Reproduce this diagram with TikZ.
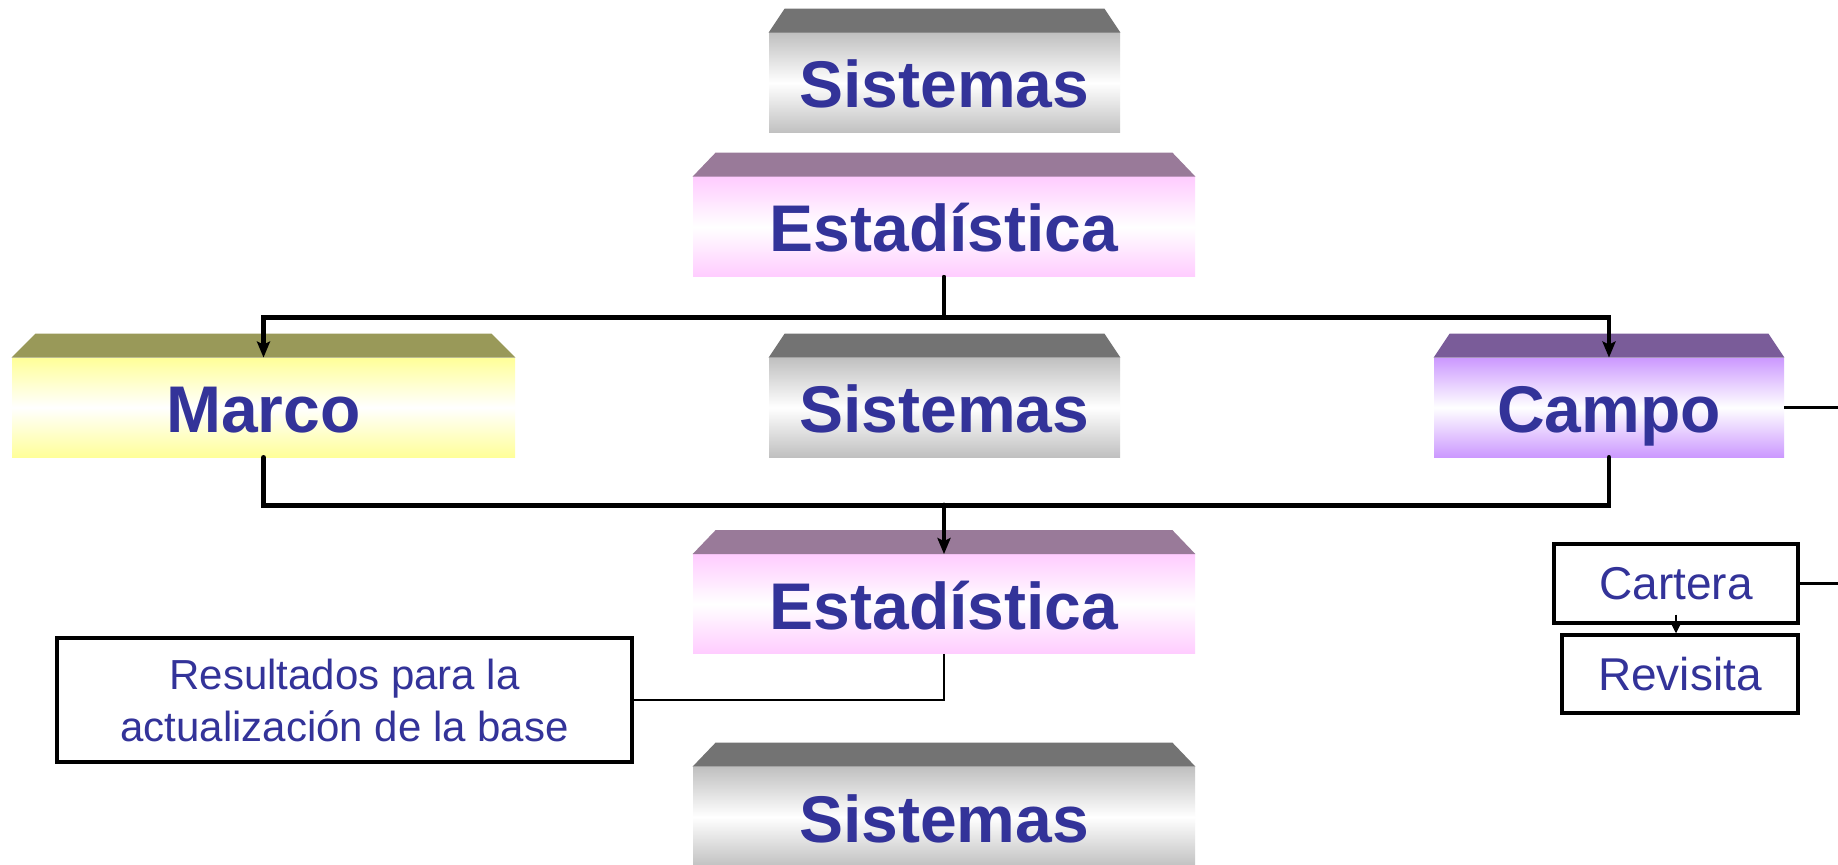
\documentclass[tikz,border=0pt]{standalone}
\usepackage{fontspec}
\setmainfont{Liberation Sans}
\usetikzlibrary{arrows.meta}
\definecolor{txt}{RGB}{51,51,153}
\definecolor{sisTop}{RGB}{115,115,115}
\definecolor{sisFront}{RGB}{192,192,192}
\definecolor{estTop}{RGB}{153,122,153}
\definecolor{estFront}{RGB}{255,204,255}
\definecolor{marTop}{RGB}{153,153,89}
\definecolor{marFront}{RGB}{255,255,153}
\definecolor{camTop}{RGB}{122,92,153}
\definecolor{camFront}{RGB}{204,153,255}
\newcommand{\tface}[3]{\fill[#2] (#1.north west) -- (#1.north east) -- ++(-#3,24) -- ([shift={(#3,24)}]#1.north west) -- cycle;}
\begin{document}
\begin{tikzpicture}[x=0.5pt,y=0.5pt,
  block/.style={rectangle, inner sep=0pt, text=txt, font=\fontsize{33}{39}\selectfont\bfseries,
    text height=25pt, text depth=0pt,
    top color=#1, bottom color=#1, middle color=white},
  tbox/.style={rectangle, draw=black, line width=1.7pt, inner sep=0pt, text=txt, fill=white},
  conn/.style={line width=2.4pt, line cap=round, line join=miter},
  thinconn/.style={line width=1.2pt},
  arr/.style={-{Stealth[length=8pt,width=6.5pt,inset=1.5pt]}},
  smallarr/.style={-{Stealth[length=6pt,width=6pt,inset=1pt]}}
]
\clip (0,0) rectangle (1838,864);
\fill[white] (0,0) rectangle (1838,864);

% 3D blocks
\node[block=sisFront, minimum width=175.5pt, minimum height=50pt] (sis1) at (944.5,781) {Sistemas};
\node[block=estFront, minimum width=251pt, minimum height=50pt] (est1) at (944,637) {Estadística};
\node[block=marFront, minimum width=251.5pt, minimum height=49.5pt] (marco) at (263.5,456.5) {Marco};
\node[block=sisFront, minimum width=175.5pt, minimum height=49.5pt] (sis2) at (944.5,456.5) {Sistemas};
\node[block=camFront, minimum width=175pt, minimum height=49.5pt] (campo) at (1609,456.5) {Campo};
\node[block=estFront, minimum width=251pt, minimum height=49.5pt] (est2) at (944,260) {Estadística};
\node[block=sisFront, minimum width=251pt, minimum height=50pt] (sis3) at (944,47) {Sistemas};

\tface{sis1}{sisTop}{16}
\tface{est1}{estTop}{23}
\tface{marco}{marTop}{24}
\tface{sis2}{sisTop}{16}
\tface{campo}{camTop}{16}
\tface{est2}{estTop}{23}
\tface{sis3}{sisTop}{23}

% text boxes
\node[tbox, minimum width=287.5pt, minimum height=62pt, align=center,
  font=\fontsize{21}{26}\selectfont] (res) at (344.5,164) {Resultados para la\\actualización de la base};
\node[tbox, minimum width=122pt, minimum height=39.5pt, font=\fontsize{23}{28}\selectfont] (cartera) at (1676,280.5) {Cartera};
\node[tbox, minimum width=118pt, minimum height=39pt, font=\fontsize{23}{28}\selectfont] (revisita) at (1680,190) {Revisita};

% free ends at the right edge
\coordinate (campoR) at (1838,456.5);
\coordinate (cartR) at (1838,280.5);
\coordinate (busB) at (944,359);

% connectors
\draw[conn,arr] (est1.south) -- ++(0,-40) -| (marco.north);
\draw[conn,arr] (est1.south) -- ++(0,-40) -| (campo.north);
\draw[conn] (marco.south) -- ++(0,-48) -| (campo.south);
\draw[conn,arr] (est2.north |- busB) -- (est2.north);
\draw[thinconn] (est2.south) |- (res.east);
\draw[thinconn] (campo.east) -- (campoR);
\draw[thinconn] (cartera.east) -- (cartR);
\draw[thinconn,smallarr] ([yshift=5]cartera.south) -- (cartera.south |- revisita.north);
\end{tikzpicture}
\end{document}
